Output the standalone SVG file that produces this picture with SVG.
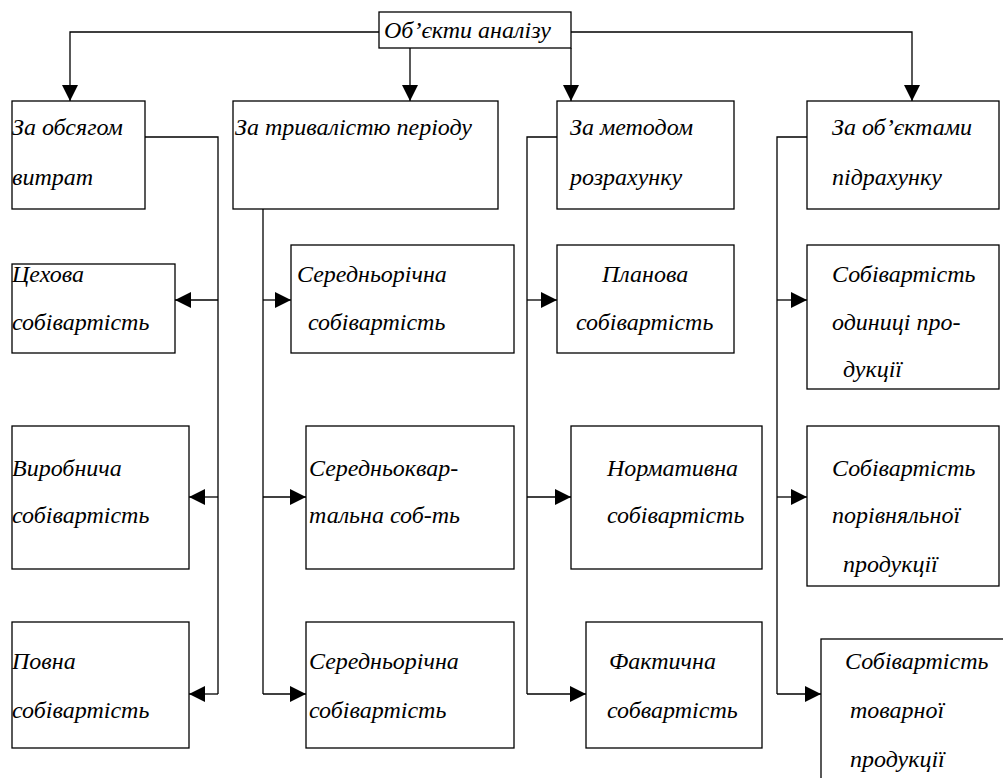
<svg xmlns="http://www.w3.org/2000/svg" width="1003" height="778" viewBox="0 0 1003 778">
<style>
  rect { fill: #fff; stroke: #000; stroke-width: 1.3; }
  text { font-family: "Liberation Serif", "DejaVu Serif", serif; font-style: italic; font-size: 24px; fill: #000; }
  .c path { fill: none; stroke: #000; stroke-width: 1.3; marker-end: url(#ah); }
  .c path.n { marker-end: none; }
</style>
<defs>
  <marker id="ah" viewBox="0 0 16 16" refX="16" refY="8" markerWidth="16" markerHeight="16" markerUnits="userSpaceOnUse" orient="auto">
    <path d="M0,0 L16,8 L0,16 Z" fill="#000" stroke="none"/>
  </marker>
</defs>
<rect x="-5" y="-5" width="1013" height="788" style="fill:#fff;stroke:none"/>
<g id="connectors" class="c">
  <path d="M379,32 H70 V101"/>
  <path d="M410,48 V101"/>
  <path d="M571,32 H912 V101"/>
  <path d="M571,48 V101"/>
  <path class="n" d="M145,137 H218 V694"/>
  <path d="M218,300 H175"/>
  <path d="M218,497 H189"/>
  <path d="M218,694 H189"/>
  <path class="n" d="M263,209 V694"/>
  <path d="M263,300 H291"/>
  <path d="M263,497 H306"/>
  <path d="M263,694 H306"/>
  <path class="n" d="M557,137 H527 V694"/>
  <path d="M527,300 H557"/>
  <path d="M527,497 H571"/>
  <path d="M527,694 H586"/>
  <path class="n" d="M807,137 H777 V694"/>
  <path d="M777,300 H807"/>
  <path d="M777,497 H807"/>
  <path d="M777,694 H821"/>
</g>
<g id="root"><rect x="379" y="12" width="192" height="36"/><text x="384" y="38">Об’єкти аналізу</text></g>
<g id="n1"><rect x="12" y="101" width="133" height="108"/><text x="12" y="135">За обсягом</text><text x="12" y="185">витрат</text></g>
<g id="n2"><rect x="233" y="101" width="265" height="108"/><text x="235" y="135">За тривалістю періоду</text></g>
<g id="n3"><rect x="557" y="101" width="177" height="108"/><text x="570" y="135">За методом</text><text x="570" y="185">розрахунку</text></g>
<g id="n4"><rect x="807" y="101" width="192" height="108"/><text x="832" y="135">За об’єктами</text><text x="832" y="185">підрахунку</text></g>
<g id="n1a"><rect x="12" y="264" width="163" height="89"/><text x="12" y="282">Цехова</text><text x="12" y="330">собівартість</text></g>
<g id="n1b"><rect x="12" y="426" width="177" height="143"/><text x="12" y="476">Виробнича</text><text x="12" y="523">собівартість</text></g>
<g id="n1c"><rect x="12" y="622" width="177" height="126"/><text x="12" y="669">Повна</text><text x="12" y="718">собівартість</text></g>
<g id="n2a"><rect x="291" y="245" width="223" height="108"/><text x="297" y="282">Середньорічна</text><text x="308" y="330">собівартість</text></g>
<g id="n2b"><rect x="306" y="426" width="208" height="143"/><text x="309" y="476">Середньоквар-</text><text x="309" y="523">тальна соб-ть</text></g>
<g id="n2c"><rect x="306" y="622" width="208" height="126"/><text x="309" y="669">Середньорічна</text><text x="309" y="718">собівартість</text></g>
<g id="n3a"><rect x="557" y="245" width="177" height="108"/><text x="602" y="282">Планова</text><text x="576" y="330">собівартість</text></g>
<g id="n3b"><rect x="571" y="426" width="191" height="143"/><text x="607" y="476">Нормативна</text><text x="607" y="523">собівартість</text></g>
<g id="n3c"><rect x="586" y="622" width="176" height="126"/><text x="609" y="669">Фактична</text><text x="607" y="718">собвартість</text></g>
<g id="n4a"><rect x="807" y="245" width="192" height="144"/><text x="832" y="282">Собівартість</text><text x="832" y="330">одиниці про-</text><text x="843" y="377">дукції</text></g>
<g id="n4b"><rect x="807" y="426" width="192" height="160"/><text x="832" y="476">Собівартість</text><text x="832" y="523">порівняльної</text><text x="843" y="572">продукції</text></g>
<g id="n4c"><rect x="821" y="639" width="190" height="150"/><text x="845" y="669">Собівартість</text><text x="850" y="718">товарної</text><text x="850" y="767">продукції</text></g>
</svg>
